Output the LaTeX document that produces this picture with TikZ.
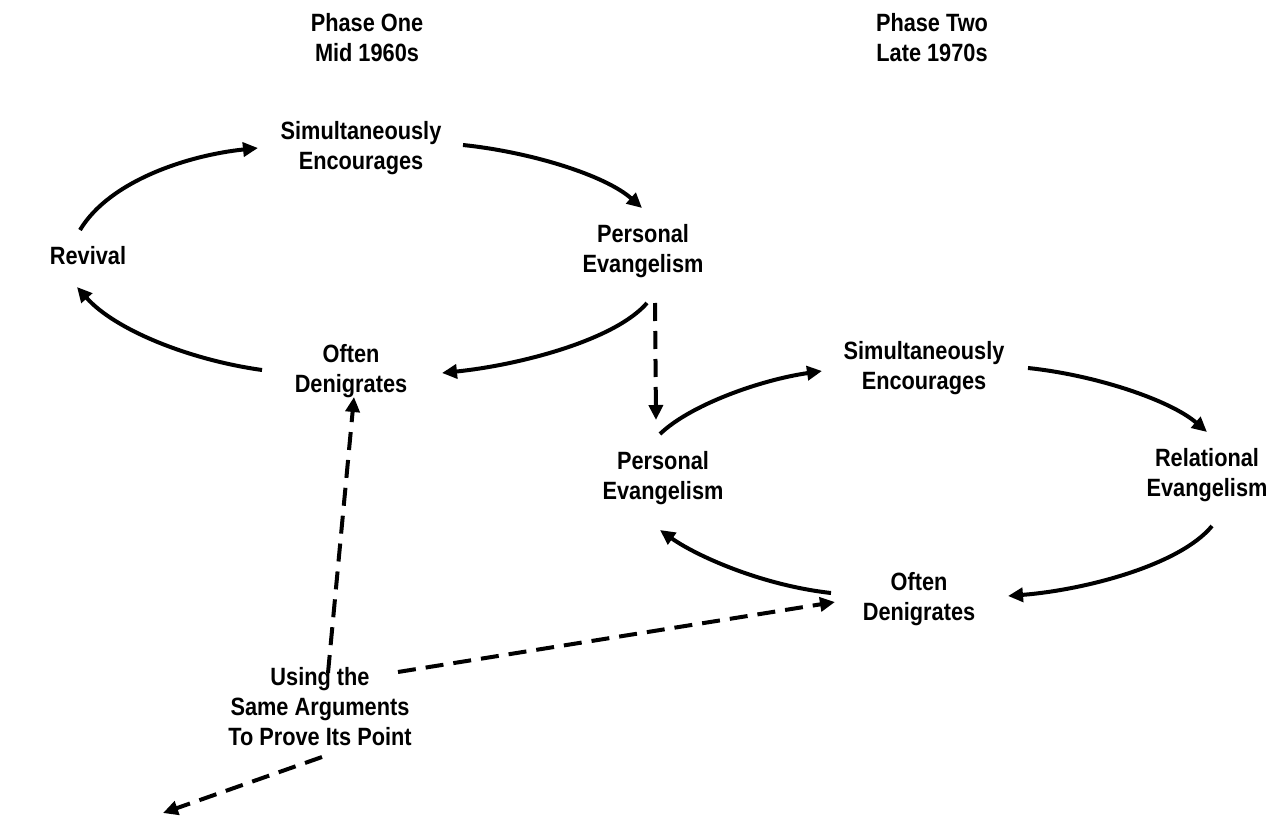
\documentclass[tikz,border=0pt]{standalone}
\usepackage{fontspec}
\newfontfamily\labfont{Liberation Sans}[FakeStretch=0.87]
\usetikzlibrary{arrows.meta,calc}
\begin{document}
\begin{tikzpicture}[x=1pt,y=-1pt,
  lbl/.style={inner sep=0pt,align=center,font=\labfont\bfseries\fontsize{25}{30}\selectfont},
  arc/.style={line width=4pt,-{Triangle[length=15pt,width=14pt]}},
  darc/.style={line width=4pt,dash pattern=on 18pt off 10pt,-{Triangle[length=15pt,width=14pt]}}]
\useasboundingbox[fill=white] (0,0) rectangle (1280,818);
% titles
\node[lbl] (ph1) at (367,38) {Phase One\\Mid 1960s};
\node[lbl] (ph2) at (932,38) {Phase Two\\Late 1970s};
% phase one cycle
\node[lbl] (rev) at (88,256) {Revival};
\node[lbl] (s1) at (361,148.5) {Simultaneously\\Encourages};
\node[lbl] (p1) at (643,251.5) {Personal\\Evangelism};
\node[lbl] (o1) at (351,371.5) {Often\\Denigrates};
% phase two cycle
\node[lbl] (p2) at (663,478) {Personal\\Evangelism};
\node[lbl] (s2) at (924,368) {Simultaneously\\Encourages};
\node[lbl] (rel) at (1207,475) {Relational\\Evangelism};
\node[lbl] (o2) at (919,599) {Often\\Denigrates};
% using
\node[lbl] (use) at (320,707) {Using the\\Same Arguments\\To Prove Its Point};
\coordinate (free) at (163,813);
% solid arcs, phase one
\draw[arc] ($(rev)+(-8,-26)$) .. controls +(30,-50) and +(-68,7) .. ($(s1)+(-103,-0.5)$);
\draw[arc] ($(s1)+(102,-3.5)$) .. controls +(67,7) and +(-37,-33) .. ($(p1)+(-1,-43.5)$);
\draw[arc] ($(p1)+(4,51.5)$) .. controls +(-32,37) and +(78,-8) .. ($(o1)+(91,1.5)$);
\draw[arc] ($(o1)+(-89,-1.5)$) .. controls +(-72,-10) and +(38,43) .. ($(rev)+(-11,31)$);
% solid arcs, phase two
\draw[arc] ($(p2)+(-3,-44)$) .. controls +(30,-29) and +(-62,9) .. ($(s2)+(-102,3)$);
\draw[arc] ($(s2)+(104,0)$) .. controls +(67,7) and +(-37,-32) .. ($(rel)+(0,-43)$);
\draw[arc] ($(rel)+(5,51)$) .. controls +(-32,39) and +(77,-6) .. ($(o2)+(89,-3)$);
\draw[arc] ($(o2)+(-88,-6)$) .. controls +(-71,-8) and +(35,25) .. ($(p2)+(-3,52)$);
% dashed connectors
\draw[darc] ($(p1)+(12,51.5)$) -- ($(p2)+(-7,-58)$);
\draw[darc] ($(use)+(8,-34)$) -- ($(o1)+(3,25.5)$);
\draw[darc] ($(use)+(78,-35)$) -- ($(o2)+(-84,3)$);
\draw[darc] ($(use)+(2,50)$) -- (free);
\end{tikzpicture}
\end{document}
